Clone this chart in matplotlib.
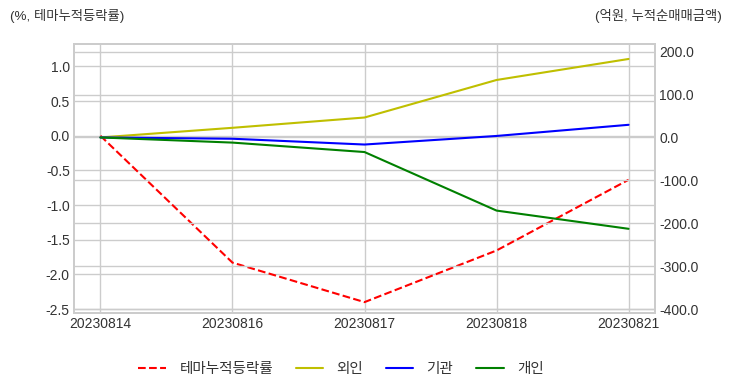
import matplotlib
matplotlib.use("Agg")
import matplotlib.pyplot as plt
from matplotlib.ticker import FormatStrFormatter, MultipleLocator

dates = ["20230814", "20230816", "20230817", "20230818", "20230821"]
theme_ret = [0.0, -1.83, -2.40, -1.655, -0.635]
foreign = [0.0, 22.5, 46.5, 134.0, 183.0]
institution = [0.0, -3.0, -16.5, 3.5, 29.5]
individual = [0.0, -12.0, -34.0, -170.5, -213.0]

plt.style.use("seaborn-v0_8-whitegrid")
plt.rcParams["font.family"] = ["Liberation Sans", "Noto Sans CJK KR"]
plt.rcParams["axes.unicode_minus"] = False

fig = plt.figure(figsize=(7.32, 3.92), dpi=100)
ax = fig.add_axes([74/732, 1-313/392, (655-74)/732, (313-44)/392])
ax2 = ax.twinx()

l1, = ax.plot(dates, theme_ret, color="r", linestyle="--", linewidth=1.5, label="테마누적등락률")
l2, = ax2.plot(dates, foreign, color="y", linewidth=1.5, label="외인")
l3, = ax2.plot(dates, institution, color="b", linewidth=1.5, label="기관")
l4, = ax2.plot(dates, individual, color="g", linewidth=1.5, label="개인")

ax.set_xlim(-0.2, 4.2)
ax.set_ylim(-2.557, 1.324)
ax2.set_ylim(-409.3, 217.9)
ax.yaxis.set_major_locator(MultipleLocator(0.5))
ax.yaxis.set_major_formatter(FormatStrFormatter("%.1f"))
ax2.yaxis.set_major_locator(MultipleLocator(100))
ax2.yaxis.set_major_formatter(FormatStrFormatter("%.1f"))

for a in (ax, ax2):
    a.tick_params(labelsize=10, colors="#333333", pad=3)
    for s in a.spines.values():
        s.set_color("#cccccc")
        s.set_linewidth(1.25)
    a.grid(True, color="#cccccc", linewidth=1.0)

fig.text(10/732, 1-16/392, "(%, 테마누적등락률)", fontsize=9.6, va="center", ha="left", color="#333333")
fig.text(722/732, 1-16/392, "(억원, 누적순매매금액)", fontsize=9.6, va="center", ha="right", color="#333333")

fig.legend(handles=[l1, l2, l3, l4], loc="center", bbox_to_anchor=(341/732, 1-369/392),
           ncol=4, frameon=False, fontsize=10.5, handlelength=1.9, handletextpad=0.9,
           columnspacing=1.55, labelcolor="#333333")

fig.savefig("out.png", dpi=100)
